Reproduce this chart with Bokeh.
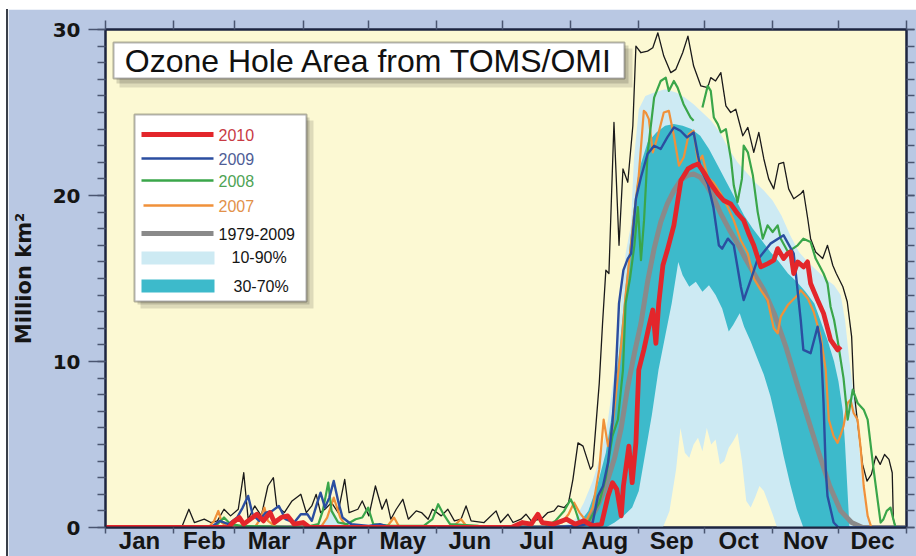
from bokeh.plotting import figure
from bokeh.models import Range1d, LinearAxis, FixedTicker, BoxAnnotation, Label, Spacer
from bokeh.layouts import column, row
from bokeh.embed import file_html
from bokeh.resources import INLINE

nan = float("nan")

# ---------------- axes data ----------------
MONTHS = ["Jan", "Feb", "Mar", "Apr", "May", "Jun", "Jul", "Aug", "Sep", "Oct", "Nov", "Dec"]
MONTH_START = [0, 31, 59, 90, 120, 151, 181, 212, 243, 273, 304, 334, 365]
MONTH_MID = [15.5, 45, 74.5, 105, 135.5, 166, 196.5, 227.5, 258, 288.5, 319, 349.5]
Y_MAJOR = [0, 10, 20, 30]
Y_MINOR = list(range(0, 31))

# ---------------- series (day of year, million km2) ----------------
D2010 = [0, 56, 58, 61, 63, 66, 69, 72, 75, 77, 80, 83, 86, 90, 93, 150, 185, 190, 194, 197,
         199, 204, 210, 214, 218, 222, 226, 229, 231, 233, 235, 236, 238.5, 240, 241.7, 243, 245.3, 247.6, 249.4, 250.8,
         252.1, 254, 256, 259, 262.2, 265.4, 268, 270, 272.6, 275.8, 279, 281.7, 284.9, 288.1, 290.8, 293.1, 295.4, 298.6, 301.8, 304.5,
         306.3, 309, 310.8, 312.2, 313.6, 315.4, 318.1, 319.9, 321.3, 324.5, 327.2, 330.4, 333.6, 335]
V2010 = [0, 0, 0.3, 0.6, 0.2, 0.5, 0.8, 0.4, 0.9, 0.3, 0.6, 0.7, 0.2, 0.3, 0, 0, 0, 0.3, 0.2, 0.8,
         0.3, 0.2, 0.5, 0.2, 0.4, 0.1, 0.2, 1.9, 2.7, 2.3, 0.7, 2.5, 4.9, 2.7, 5.1, 9.5, 10.7, 12.1, 13.1, 11.1,
         13.5, 15.8, 16.7, 18.2, 20.9, 21.6, 21.8, 21.9, 21.4, 20.7, 20.1, 19.7, 19.5, 18.9, 18.5, 17.7, 17.0, 15.7, 15.9, 16.1,
         16.8, 16.2, 16.5, 16.6, 15.3, 16.0, 15.7, 16.0, 14.7, 13.7, 12.9, 11.3, 10.7, 10.9]

D2009 = [0, 48, 52, 56, 60, 62.5, 65, 67, 70, 73, 76, 79, 82, 86, 89, 92, 94, 96.5, 98, 100,
         102, 104, 106, 108, 112, 120, 125, 130, 200, 215, 220, 222, 224.4, 226.7, 229, 231, 232.6, 234, 236, 238,
         239.5, 241.7, 244, 247, 250, 253, 256, 259, 262, 265, 268, 270, 271.3, 274.5, 277, 279.5, 281, 283.6, 286.3, 289.5,
         290.8, 294, 297, 303, 309, 313.6, 316.8, 318, 321.3, 324.5, 326, 327.2, 328.2, 329, 331.8, 334, 365]
V2009 = [0, 0, 0.4, 0.2, 0.6, 1.2, 1.9, 0.8, 0.4, 0.9, 1.0, 1.3, 0.5, 0.3, 0.8, 0.8, 0.4, 1.5, 2.1, 1.2,
         1.8, 2.8, 1.6, 0.6, 0.2, 0.1, 0.2, 0, 0, 0.1, 0.2, 0.3, 1.9, 2.5, 3.9, 6.3, 9.5, 13.5, 15.5, 16.2,
         16.5, 19.8, 21.1, 22.5, 23.0, 22.8, 23.5, 24.1, 23.9, 23.5, 23.8, 22.4, 21.6, 20.7, 19.3, 17.0, 16.8, 17.4, 17.0, 14.5,
         13.7, 14.9, 16.1, 17.1, 17.6, 16.5, 12.5, 10.7, 10.5, 12.1, 11.0, 7.5, 3.5, 1.9, 0.3, 0, 0]

D2008 = [0, 48, 51, 54, 57, 62, 90, 97, 99, 101.5, 103, 106, 110, 114, 117, 119.7, 122, 130, 145, 149,
         151.6, 154, 157, 170, 200, 205, 209, 212, 214, 216, 220, 225, 228, 231, 233.5, 235.8, 237, 239, 241, 242.6,
         244, 245.4, 247, 250, 253, 255.3, 256.7, 259, 260.7, 263.4, 266.6, 268, 270, 272, 274.4, 275.8, 277.2, 279, 280.4, 282.7,
         285, 286.3, 288, 290, 290.8, 292.7, 295, 297.2, 299.5, 301.7, 304, 306.3, 307.7, 311, 315.4, 318, 321.3, 323.6, 326, 327.2,
         329, 330.4, 332, 333.6, 335, 336.3, 338.2, 340.5, 342.7, 345.5, 347.3, 350, 352, 353.2, 354.5, 356, 357.7, 359, 360, 365]
V2008 = [0, 0, 0.2, 0.6, 0.2, 0.1, 0, 0.2, 1.0, 2.7, 1.0, 0.3, 0.2, 0.5, 0.6, 1.2, 0.2, 0.1, 0.1, 0.5,
         1.4, 0.8, 0.2, 0.1, 0, 0.4, 1.0, 1.7, 1.1, 0.3, 0.3, 1.5, 3.0, 5.5, 6.5, 9.5, 13.5, 15, 17, 19.3,
         16.1, 18.5, 22.5, 25.9, 26.9, 27.1, 26.3, 26.9, 26.5, 25.5, 24.7, 24.5, nan, 25.3, 26.6, 26.3, 24.7, 24.3, 23.8, 24.0,
         22.2, 20.6, 19.6, 21.0, 23.0, 22.6, 21.2, 19.0, 17.4, 18.2, 17.8, 18.2, 17.4, 16.6, 17.0, 17.4, 17.2, 16.2, 15.6, 15.3,
         14.7, 13.3, 12.5, 11.3, 10.1, 9.0, 6.5, 8.3, 7.5, 7.1, 6.5, 3.5, 1.5, 0.3, 0.5, 1.0, 1.2, 0.5, 0, 0]

D2007 = [0, 47, 49.5, 51.4, 53, 56, 68, 70.5, 72.4, 74, 78, 98, 101, 104, 107, 110, 128, 131.5, 134, 158,
         162, 165, 200, 208, 211, 213.5, 216, 219, 222, 225, 227, 229, 231, 233, 235, 237, 239, 241, 243, 245.3,
         246.2, 247.6, 249.4, 251.7, 254.4, 256.7, 259, 261.3, 263.5, 265.8, 268, 270, 272, 274.4, 277, 280.4, 283.5, 286.3, 289.5, 292.7,
         295.4, 298.6, 301.7, 304.5, 306.3, 307.7, 310.9, 315.4, 316.8, 320, 322.7, 325.9, 328.2, 329.6, 331.8, 333.6, 335, 336.3, 338.2, 339.5,
         340.9, 342.7, 344.1, 345.5, 347.3, 349, 365]
V2007 = [0, 0, 0.4, 1.0, 0.3, 0, 0, 0.5, 1.2, 0.4, 0, 0, 0.6, 1.8, 0.6, 0, 0, 0.6, 0, 0,
         0.5, 0, 0, 0.3, 0.8, 1.5, 0.9, 0.4, 1.2, 3.5, 6.5, 4.9, 6.0, 8.5, 11, 14, 16.5, 19, 21.2, 25.1,
         25.0, 24.6, 22.6, 23.6, 25.0, 25.1, 23.6, 21.8, 22.3, 23.7, 23.9, 22.0, 22.4, 21.1, 20.8, 20.1, 19.3, 18.5, 17.3, 16.5,
         15.0, 14.3, 13.7, 12.0, 11.7, 12.7, 13.4, 14.0, 14.3, 13.8, 13.0, 11.5, 9.5, 6.5, 5.5, 5.1, 5.6, 6.1, 7.5, 7.7,
         6.9, 6.5, 4.8, 2.5, 0.7, 0, 0]

DMAX = [35, 38, 40.5, 45, 48, 51, 54, 57, 60.5, 63, 65, 68, 71, 74, 76.5, 78, 81.5, 85, 88, 89,
        91.5, 94, 96, 98, 100, 103, 106, 109, 111, 115, 117, 120, 123, 126, 128, 130, 132.5, 135.5, 138, 141.6,
        144, 147, 149, 153, 156, 159, 162, 164.3, 166.6, 172.5, 178, 180, 183.4, 185.7, 189.3, 191.6, 194, 198.5, 201.6, 204.4,
        206.2, 209, 211, 213, 215.3, 217.6, 221, 222, 225, 226.5, 228, 229.4, 231.7, 234, 235.8, 238, 240.3, 241.7, 244, 247,
        249.4, 251.7, 254.4, 257.6, 259.9, 263, 265.4, 268, 271.3, 274.4, 275.8, 278, 280.4, 282.7, 284.9, 287.2, 290.4, 292.7, 295.4, 297.7,
        300, 302.2, 304.5, 306.8, 309, 311.3, 313.6, 316.8, 318, 320, 321.3, 323.6, 326.8, 329, 331.4, 333, 336, 338, 340, 341,
        343, 345, 347, 349, 351, 353, 355, 357, 358.5, 359, 360]
VMAX = [0.1, 1.1, 0.3, 0.5, 0.3, 0.4, 1.1, 0.7, 1.1, 3.3, 0.5, 1.3, 0.7, 2.5, 3.0, 1.3, 0.9, 1.6, 1.9, 2.0,
        0.9, 1.3, 2.0, 0.9, 1.1, 1.5, 0.9, 2.9, 0.9, 1.1, 1.6, 0.7, 2.5, 1.1, 1.7, 0.5, 1.1, 1.7, 0.5, 1.0,
        0.9, 0.5, 1.1, 0.7, 1.1, 0.4, 0.5, 1.3, 0.4, 0.3, 1.0, 0.3, 0.8, 0.3, 0.5, 0.8, 0.4, 0.5, 0.9, 1.0,
        1.3, 1.2, 1.5, 2.9, 5.1, 4.9, 3.5, 3.7, 8.7, 12.3, 15.5, 15.3, 24.4, 17.0, 21.6, 20.8, 24.2, 29.0, 28.6, 28.7,
        28.9, 29.8, 28.4, 27.4, 27.6, 28.6, 29.6, 27.8, 26.6, 26.5, 27.1, 26.9, 27.4, 25.4, 25.0, 25.2, 23.6, 24.1, 22.6, 23.8,
        22.2, 21.0, 20.4, 21.9, 22.0, 20.4, 19.8, 20.1, 20.3, 18.6, 17.4, 16.6, 16.2, 17.0, 15.8, 15.3, 14.5, 13.6, 11.5, 8.3,
        6.0, 3.8, 2.8, 3.2, 4.3, 3.8, 4.4, 4.1, 3.3, 0.5, 0]

DMEAN = [0, 214, 220, 224, 228, 232, 235, 238, 241, 244, 247, 250, 253, 256, 259, 262, 265, 268, 271, 274,
         277, 280, 284, 288, 292, 296, 300, 305, 310, 315, 320, 325, 330, 335, 340, 345, 365]
VMEAN = [0, 0, 0.3, 1.2, 2.5, 4.2, 6.0, 8.5, 10.5, 12.3, 14.8, 16.8, 18.4, 19.5, 20.3, 20.9, 21.2, 21.3, 21.1, 20.6,
         19.9, 19.0, 18.0, 17.1, 16.1, 15.2, 14.3, 12.8, 10.9, 8.7, 6.6, 4.5, 2.5, 1.0, 0.3, 0, 0]

D90 = [0, 96, 100, 103, 106, 110, 205, 210, 214, 218, 222, 226, 229, 232, 235, 237, 239.4, 240.8, 243, 246,
       250, 255, 260, 264, 268, 272, 276, 280, 284, 288, 292, 296, 300, 304, 308, 312, 316, 320, 324, 328,
       332, 335, 337, 339, 341, 343, 345, 347, 349, 365]
P90 = [0, 0, 0.4, 1.2, 0.5, 0, 0, 0.2, 0.5, 1.5, 2.8, 4.5, 6.5, 9.5, 13.5, 16.5, 18.2, 22.2, 25.2, 26.0,
       26.2, 26.4, 26.2, 25.9, 25.5, 25.0, 24.5, 23.8, 22.8, 22.0, 21.4, 20.8, 20.3, 19.7, 18.8, 17.6, 16.6, 16.0, 15.5, 15.0,
       14.6, 14.0, 12.5, 10.0, 8.0, 5.5, 2.5, 0.8, 0, 0]

D10 = [0, 254, 257, 260, 262, 264, 266, 268, 270, 272, 274, 276, 278, 280, 282, 284, 286, 288, 290, 292,
       294, 296, 298, 300, 302, 304, 306, 365]
P10 = [0, 0, 1.0, 3.5, 6.0, 4.5, 4.2, 5.0, 5.4, 4.6, 6.0, 5.0, 5.3, 3.8, 4.0, 4.8, 5.2, 5.7, 4.0, 1.6,
       1.2, 1.8, 2.5, 2.2, 1.5, 0.8, 0, 0]

D70 = [0, 212, 216, 220, 224, 228, 231, 234, 237, 240, 243, 247, 251, 255, 259, 263, 267, 271, 275, 279,
       283, 287, 291, 295, 299, 303, 307, 311, 315, 319, 323, 326, 329, 332, 334, 336, 337, 338, 339, 365]
P70 = [0, 0, 0.3, 1.0, 2.5, 4.5, 7.0, 10.5, 14.5, 18.5, 21.5, 23.2, 23.8, 24.2, 24.3, 24.2, 24.0, 23.6, 22.8, 21.8,
       20.8, 19.8, 18.8, 18.0, 17.3, 16.6, 16.0, 15.3, 14.8, 14.2, 13.5, 12.4, 11.3, 10.0, 8.8, 7.0, 5.0, 2.5, 0, 0]

D30 = [0, 228, 232, 236, 240, 243, 246, 249, 252, 255, 258, 261, 263, 266, 269, 272, 275, 278, 281, 284,
       286, 289, 291, 294, 297, 300, 303, 306, 309, 312, 315, 318, 365]
P30 = [0, 0, 0.3, 0.7, 1.2, 2.2, 4.5, 6.8, 9.5, 11.5, 13.5, 16.0, 15.2, 14.5, 14.8, 14.2, 14.6, 14.0, 13.2, 11.8,
       12.2, 12.9, 12.1, 11.2, 10.2, 9.2, 7.9, 6.2, 4.3, 2.6, 1.1, 0, 0]

# ---------------- styling ----------------
OUTER = "#b9c8e3"
INNER = "#fcf9d3"
LIGHT = "#cdeaf3"
TEAL = "#3dbacb"
C2010 = "#e3262b"
C2009 = "#2b4ea0"
C2008 = "#3aa64a"
C2007 = "#f0913a"
CMEAN = "#8a8a8a"
FRAME = "#1c2540"
TICK = "#4a5570"

p = figure(width=908, height=547, x_range=Range1d(0, 365), y_range=Range1d(0, 30),
           output_backend="svg", toolbar_location=None,
           x_axis_location=None, y_axis_location=None,
           min_border_left=96, min_border_right=10, min_border_top=20, min_border_bottom=28,
           background_fill_color=INNER, border_fill_color=OUTER,
           outline_line_color=FRAME, outline_line_width=2)
p.grid.visible = False

# bands
p.patch(x=D90 + D10[::-1], y=P90 + P10[::-1], fill_color=LIGHT, line_color=None)
p.patch(x=D70 + D30[::-1], y=P70 + P30[::-1], fill_color=TEAL, line_color=None)

# lines
p.line(DMAX, VMAX, line_color="#1a1a1a", line_width=1.3, line_join="round")
p.line(DMEAN, VMEAN, line_color=CMEAN, line_width=5, line_join="round", line_cap="round")
p.line(D2007, V2007, line_color=C2007, line_width=2.2, line_join="round")
p.line(D2008, V2008, line_color=C2008, line_width=2.2, line_join="round")
p.line(D2009, V2009, line_color=C2009, line_width=2.4, line_join="round")
p.line(D2010, V2010, line_color=C2010, line_width=4.8, line_join="round")

# axes
bottom = LinearAxis(ticker=FixedTicker(ticks=MONTH_MID, minor_ticks=MONTH_START),
                    major_label_overrides={m: n for m, n in zip(MONTH_MID, MONTHS)},
                    major_tick_out=0, major_tick_in=0, minor_tick_out=6, minor_tick_in=0,
                    major_label_standoff=-7,
                    major_label_text_font="Liberation Sans", major_label_text_font_style="bold",
                    major_label_text_font_size="24px", major_label_text_color="#151515",
                    axis_line_color=FRAME, axis_line_width=2,
                    minor_tick_line_color=TICK, minor_tick_line_width=1.5)
p.add_layout(bottom, "below")

left = LinearAxis(ticker=FixedTicker(ticks=Y_MAJOR, minor_ticks=Y_MINOR),
                  major_tick_out=17, major_tick_in=0, minor_tick_out=8, minor_tick_in=0,
                  major_label_standoff=8,
                  major_label_text_font="DejaVu Sans", major_label_text_font_style="bold",
                  major_label_text_font_size="20px", major_label_text_color="#151515",
                  axis_label="Million km²", axis_label_text_font="DejaVu Sans",
                  axis_label_text_font_style="bold", axis_label_text_font_size="21px",
                  axis_label_text_color="#151515", axis_label_standoff=14,
                  axis_line_color=FRAME, axis_line_width=2,
                  major_tick_line_color=TICK, minor_tick_line_color=TICK,
                  major_tick_line_width=1.5, minor_tick_line_width=1.5)
p.add_layout(left, "left")

right = LinearAxis(ticker=FixedTicker(ticks=Y_MAJOR, minor_ticks=Y_MINOR),
                   major_tick_out=8, major_tick_in=0, minor_tick_out=8, minor_tick_in=0,
                   major_label_standoff=0, major_label_text_color=None, major_label_text_font_size="1px",
                   axis_line_color=FRAME, axis_line_width=2,
                   major_tick_line_color=TICK, minor_tick_line_color=TICK,
                   major_tick_line_width=1.5, minor_tick_line_width=1.5)
p.add_layout(right, "right")

top = LinearAxis(ticker=FixedTicker(ticks=MONTH_START, minor_ticks=[]),
                 major_tick_out=9, major_tick_in=0,
                 major_label_standoff=0, major_label_text_color=None, major_label_text_font_size="1px",
                 axis_line_color=FRAME, axis_line_width=2,
                 major_tick_line_color=TICK, major_tick_line_width=1.5)
p.add_layout(top, "above")


def sbox(l, r, t, b, **kw):
    p.add_layout(BoxAnnotation(left=l, right=r, top=t, bottom=b,
                               left_units="screen", right_units="screen",
                               top_units="screen", bottom_units="screen", **kw))


def slabel(x, y, text, **kw):
    p.add_layout(Label(x=x, y=y, x_units="screen", y_units="screen", text=text,
                       text_baseline="middle", **kw))


# title box with shadow
sbox(14, 527, 479, 440, fill_color="#000000", fill_alpha=0.12, line_color=None)
sbox(11, 523, 482, 444, fill_color="#000000", fill_alpha=0.15, line_color=None)
sbox(8, 519, 485, 449, fill_color="white", fill_alpha=1, line_color="black", line_width=2)
slabel(263.5, 467, "Ozone Hole Area from TOMS/OMI", text_align="center",
       text_font="Liberation Sans", text_font_size="32px", text_color="#111111")

# legend box with shadow
sbox(35, 208, 407, 219, fill_color="#000000", fill_alpha=0.12, line_color=None)
sbox(32, 204, 410, 223, fill_color="#000000", fill_alpha=0.15, line_color=None)
sbox(29, 201, 413, 226, fill_color="white", fill_alpha=1, line_color="black", line_width=2)

sbox(36, 108, 395.5, 390.5, fill_color=C2010, fill_alpha=1, line_color=None)
sbox(36, 108, 370.2, 367.8, fill_color=C2009, fill_alpha=1, line_color=None)
sbox(36, 108, 348.2, 345.8, fill_color=C2008, fill_alpha=1, line_color=None)
sbox(38, 108, 323.2, 320.8, fill_color=C2007, fill_alpha=1, line_color=None)
sbox(36, 108, 296.5, 291.5, fill_color=CMEAN, fill_alpha=1, line_color=None)
sbox(36, 109, 276, 263, fill_color=LIGHT, fill_alpha=1, line_color=None)
sbox(36, 109, 248, 235, fill_color=TEAL, fill_alpha=1, line_color=None)

lf = dict(text_font="Liberation Sans", text_font_size="16px")
slabel(113, 393, "2010", text_color="#c83a44", **lf)
slabel(113, 369, "2009", text_color="#4f5d96", **lf)
slabel(113, 347, "2008", text_color="#4ea354", **lf)
slabel(113, 322, "2007", text_color="#e2914a", **lf)
slabel(113, 294, "1979-2009", text_color="#151515", **lf)
slabel(126, 270, "10-90%", text_color="#151515", **lf)
slabel(128, 241, "30-70%", text_color="#151515", **lf)

# page offset like the original image (white strip above, thin dark edge at left)
edge = Spacer(width=8, height=547,
              styles={"background": "linear-gradient(to right, #ffffff 0px, #ffffff 6px, #3a3f4a 6px, #3a3f4a 8px)"})
layout = column(Spacer(width=916, height=9), row(edge, p))

open("out.html", "w").write(file_html(layout, INLINE))
